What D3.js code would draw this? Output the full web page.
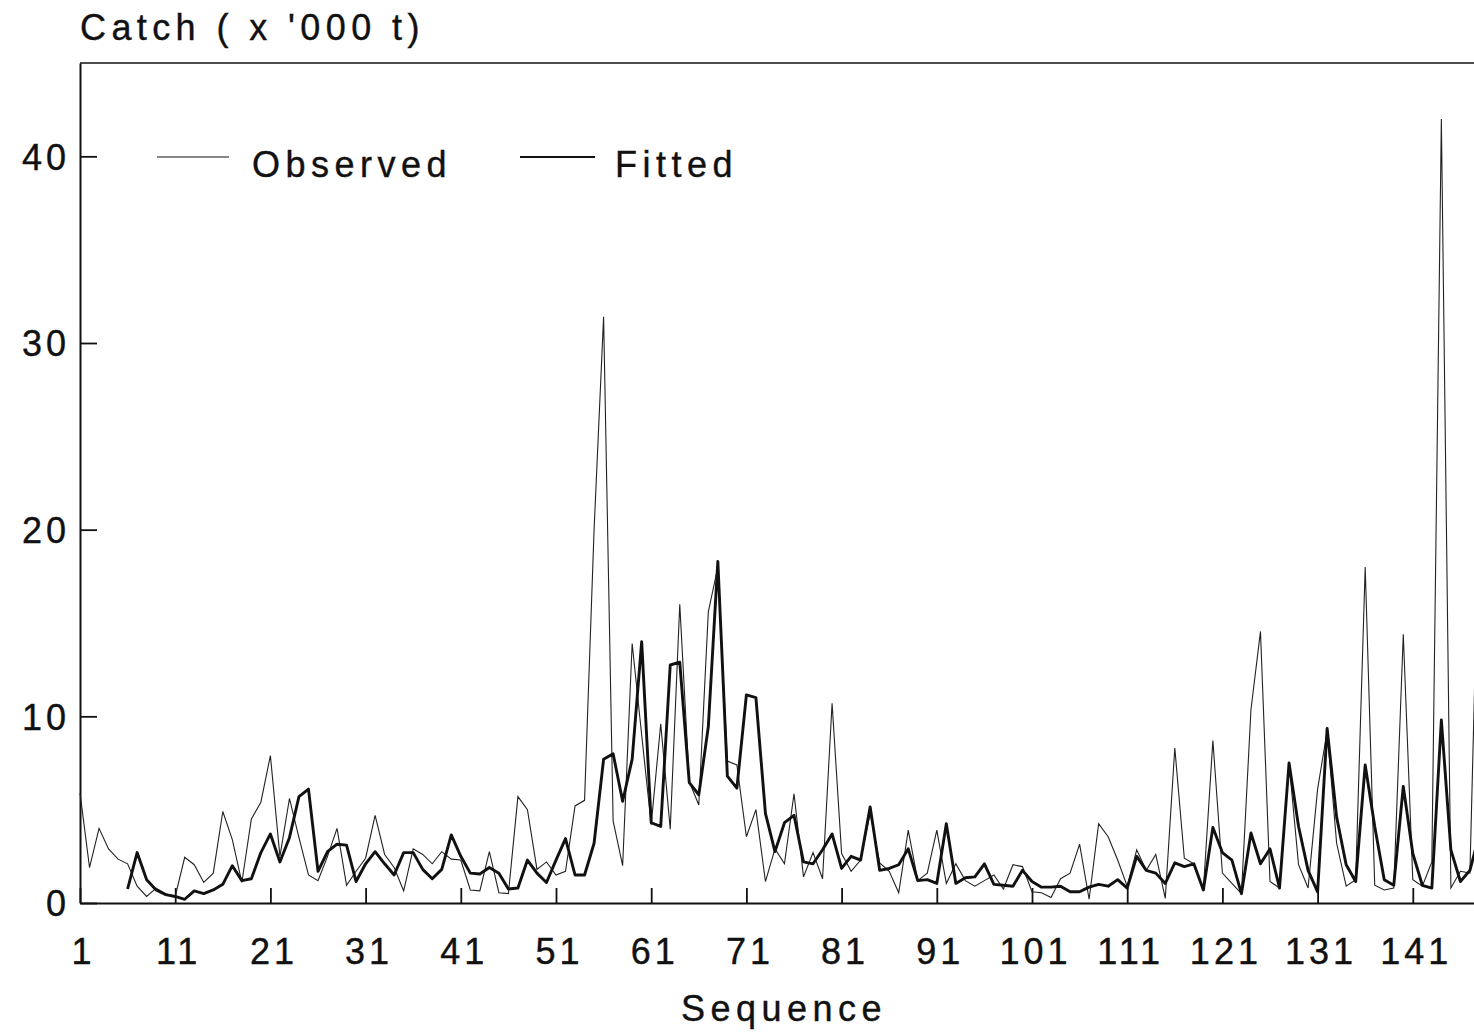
<!DOCTYPE html>
<html>
<head>
<meta charset="utf-8">
<script src="https://cdn.jsdelivr.net/npm/d3@7"></script>
<style>
  body { margin: 0; background: #fff; }
  text { font-family: "Liberation Sans", Arial, sans-serif; fill: #111; stroke: #111; stroke-width: 0.4px; }
</style>
</head>
<body>
<script>
// catch series (x '000 t), sequence 1..148
var observed = [5.9, 1.9, 4.0, 2.9, 2.35, 2.1, 0.9, 0.35, 0.8, 0.5,
  0.35, 2.45, 2.05, 1.1, 1.6, 4.9, 3.4, 1.1, 4.5, 5.4,
  7.9, 2.5, 5.6, 3.5, 1.5, 1.2, 2.5, 4.0, 0.95, 1.7,
  2.4, 4.7, 2.6, 1.9, 0.65, 2.9, 2.6, 2.1, 2.75, 2.35,
  2.3, 0.7, 0.65, 2.75, 0.55, 0.5, 5.7, 5.0, 1.8, 2.2,
  1.5, 1.7, 5.2, 5.5, 20.0, 31.4, 4.4, 2.0, 13.9, 9.0,
  4.2, 9.6, 3.95, 16.0, 6.5, 5.25, 15.6, 18.0, 7.6, 7.4,
  3.55, 5.0, 1.15, 2.9, 2.1, 5.85, 1.4, 2.7, 1.3, 10.7,
  2.65, 1.7, 2.3, 4.8, 2.15, 1.7, 0.55, 3.9, 1.2, 1.6,
  3.9, 1.05, 2.1, 1.2, 0.9, 1.2, 1.5, 0.75, 2.05, 1.95,
  0.6, 0.55, 0.3, 1.3, 1.6, 3.15, 0.2, 4.25, 3.55, 2.3,
  0.9, 2.85, 1.75, 2.6, 0.25, 8.3, 2.4, 2.1, 0.7, 8.7,
  1.6, 1.05, 0.5, 10.35, 14.55, 1.15, 0.8, 7.5, 2.05, 0.8,
  6.1, 9.2, 3.2, 0.9, 1.25, 18.0, 0.95, 0.7, 0.8, 14.4,
  1.25, 0.9, 2.2, 42.0, 0.8, 1.7, 1.6, 22.0];

// fitted values start at sequence 6
var fittedStart = 6;
var fitted = [0.75, 2.7, 1.25, 0.7, 0.45,
  0.35, 0.2, 0.65, 0.5, 0.7, 1.0, 2.0, 1.2, 1.3, 2.7,
  3.7, 2.2, 3.5, 5.7, 6.1, 1.7, 2.75, 3.15, 3.1, 1.15,
  2.1, 2.75, 2.1, 1.5, 2.7, 2.7, 1.8, 1.3, 1.8, 3.65,
  2.5, 1.6, 1.55, 1.9, 1.6, 0.75, 0.8, 2.3, 1.6, 1.1,
  2.3, 3.45, 1.5, 1.5, 3.2, 7.7, 8.0, 5.45, 7.7, 14.0,
  4.3, 4.1, 12.75, 12.9, 6.45, 5.8, 9.45, 18.3, 6.8, 6.15,
  11.15, 11.0, 4.8, 2.75, 4.3, 4.7, 2.2, 2.1, 2.85, 3.7,
  1.85, 2.5, 2.3, 5.15, 1.75, 1.85, 2.05, 2.9, 1.2, 1.25,
  1.05, 4.25, 1.05, 1.35, 1.4, 2.1, 1.0, 0.95, 0.9, 1.75,
  1.15, 0.85, 0.85, 0.9, 0.6, 0.6, 0.85, 1.0, 0.9, 1.25,
  0.8, 2.5, 1.75, 1.6, 1.05, 2.15, 1.95, 2.1, 0.7, 4.05,
  2.7, 2.3, 0.5, 3.75, 2.1, 2.9, 0.8, 7.5, 4.1, 1.75,
  0.6, 9.35, 4.6, 2.05, 1.15, 7.4, 4.1, 1.25, 0.95, 6.25,
  2.65, 0.95, 0.8, 9.8, 2.85, 1.15, 1.75, 3.7];

var xTicks = [1, 11, 21, 31, 41, 51, 61, 71, 81, 91, 101, 111, 121, 131, 141];
var yTicks = [0, 10, 20, 30, 40];

var w = 1474;
var h = 1032;

var svg = d3.select("body")
  .append("svg")
  .attr("width", w)
  .attr("height", h);

var x = d3.scaleLinear().domain([1, 148]).range([80, 80 + 147 * 9.52]);
var y = d3.scaleLinear().domain([0, 45]).range([903, 63]);

// frame top
svg.append("line")
  .attr("x1", 80).attr("x2", w)
  .attr("y1", y(45)).attr("y2", y(45))
  .attr("stroke", "#111").attr("stroke-width", 1.6);

var yAxis = svg.append("g")
  .attr("transform", "translate(80,0)")
  .call(d3.axisLeft(y).tickValues(yTicks).tickSize(-17).tickSizeOuter(0).tickPadding(10));

var xAxis = svg.append("g")
  .attr("transform", "translate(0,903)")
  .call(d3.axisBottom(x).tickValues(xTicks).tickSize(-15).tickSizeOuter(0).tickPadding(35));

[yAxis, xAxis].forEach(function(g) {
  g.select(".domain").attr("stroke", "#111").attr("stroke-width", 2);
  g.selectAll(".tick line").attr("stroke", "#111").attr("stroke-width", 1.8);
  g.selectAll(".tick text")
    .attr("fill", "#111")
    .style("font-family", "'Liberation Sans', Arial, sans-serif")
    .style("font-size", "36px")
    .style("letter-spacing", "4px");
});
yAxis.selectAll(".tick text").attr("dy", "0.36em");
xAxis.selectAll(".tick text").attr("dx", "3px");

var obsLine = d3.line()
  .x(function(d, i) { return x(i + 1); })
  .y(function(d) { return y(d); });

var fitLine = d3.line()
  .x(function(d, i) { return x(i + fittedStart); })
  .y(function(d) { return y(d); });

svg.append("path")
  .datum(observed)
  .attr("d", obsLine)
  .attr("fill", "none")
  .attr("stroke", "#222")
  .attr("stroke-width", 1.1)
  .attr("stroke-linejoin", "miter");

svg.append("path")
  .datum(fitted)
  .attr("d", fitLine)
  .attr("fill", "none")
  .attr("stroke", "#111")
  .attr("stroke-width", 2.9)
  .attr("stroke-linejoin", "round");

// legend
var legend = [
  {name: "Observed", x1: 157, x2: 229, tx: 252, sw: 1.1},
  {name: "Fitted", x1: 520, x2: 595, tx: 615, sw: 2.2}
];

legend.forEach(function(d) {
  svg.append("line")
    .attr("x1", d.x1).attr("x2", d.x2)
    .attr("y1", 157).attr("y2", 157)
    .attr("stroke", "#111").attr("stroke-width", d.sw);
  svg.append("text")
    .attr("x", d.tx).attr("y", 177)
    .style("font-size", "36px")
    .style("letter-spacing", "5.5px")
    .text(d.name);
});

svg.append("text")
  .attr("x", 80).attr("y", 40)
  .style("font-size", "36px")
  .style("letter-spacing", "5.4px")
  .text("Catch ( x '000 t)");

svg.append("text")
  .attr("x", 784).attr("y", 1021)
  .attr("text-anchor", "middle")
  .style("font-size", "36px")
  .style("letter-spacing", "5.5px")
  .text("Sequence");
</script>
</body>
</html>
